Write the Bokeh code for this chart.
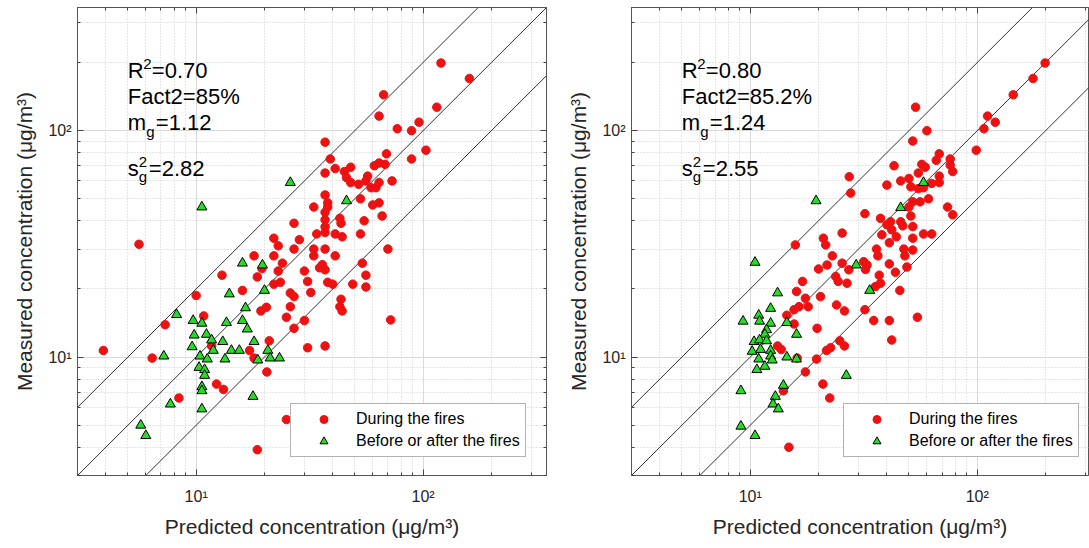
from bokeh.plotting import figure
from bokeh.models import FixedTicker, LogAxis, Label, Legend, LegendItem, Range1d
from bokeh.layouts import row
from bokeh.embed import file_html
from bokeh.resources import INLINE

# ---------------- data ----------------
left_red_x = [120, 160, 67, 115, 64, 96, 77, 89, 37, 103, 89, 69, 39, 61, 64, 68, 41, 37, 48, 45,
              46, 48, 52, 57, 56, 59, 62, 64, 73, 37, 38, 38, 53, 60, 64, 33, 37, 37, 37, 37,
              43, 43.5, 66, 55, 27, 34, 41, 44, 53, 28.5, 22, 23, 27, 33, 37, 41, 70, 33, 22, 36,
              37, 24, 23, 30, 31, 32, 23.5, 22, 26, 27, 26, 25, 30, 27, 38, 40, 49, 54, 56, 56,
              43.5, 43, 44, 72, 31, 37, 25, 20.5, 21, 5.6, 18, 19.5, 18.6, 13, 16, 10, 20.4, 19.3, 10.8, 7.3,
              11.7, 17.2, 18, 12.3, 13.2, 8.4, 18.6, 6.4, 3.9, 35]
left_red_y = [199, 170, 144, 127, 116, 109, 102, 100, 89, 82, 75, 79, 75, 70, 72, 71, 68, 65, 69, 66,
              62, 59, 58, 63, 60, 56, 56, 59, 60, 52, 48, 46, 50, 47, 48, 46, 43.6, 40.4, 37.6, 35.5,
              41, 39, 42, 40, 39, 35, 35, 34, 35, 33, 33.5, 31, 30, 30, 30, 28, 30, 28, 28, 25.6,
              24.3, 26, 24, 24, 21.6, 19.3, 21.4, 21, 19.2, 18.5, 16.7, 15, 14.5, 13.4, 21.4, 21, 21, 26, 23, 20.4,
              18, 16.7, 16, 14.6, 11, 11.2, 5.3, 8.6, 11.8, 31.5, 28, 24.6, 22.6, 23, 19.7, 18.7, 16.6, 16, 15.2, 13.9,
              11.2, 10.7, 9.9, 7.6, 7.2, 6.6, 3.9, 9.9, 10.7, 24.8]
left_green_x = [10.6, 26, 46, 16, 19.6, 20, 14, 16.5, 8.2, 9.7, 10.6, 13.6, 16, 16.8, 9.8, 11.1, 9.6, 11.7, 11.9, 13.1,
                14.3, 15.5, 18, 20.7, 21.2, 23.3, 18.7, 13.4, 10.4, 11.2, 10.3, 10.9, 10.9, 10.6, 10.6, 10.6, 17.8, 7.7, 5.7, 6.0,
                7.2]
left_green_y = [46, 59, 49, 26, 25.5, 19.7, 19, 16.5, 15.4, 14.5, 14.1, 14.2, 14.5, 13.3, 12.5, 12.6, 11.1, 11.9, 10.7, 11.7,
                10.7, 10.7, 11.7, 10.7, 9.9, 9.9, 9.7, 9.8, 10.1, 9.8, 9.0, 8.8, 8.3, 7.4, 7.1, 5.9, 6.7, 6.2, 5.0, 4.5,
                10.1]

right_red_x = [199, 176, 144, 111, 120, 107, 99, 53.5, 60, 52, 68, 66, 76, 76, 78, 57, 59, 43, 55, 46,
               50, 40, 51, 68, 68, 63, 58, 55, 61, 56, 52, 50, 51, 74, 78, 32, 37.5, 41.5, 46, 40,
               42, 47, 52, 38, 44, 52, 58, 63, 41, 36, 47.5, 52, 36.5, 48, 31.6, 32.7, 32.2, 41, 49, 43.6,
               37, 37.5, 35.6, 45.6, 32, 35, 41, 54.5, 42, 27.3, 27.7, 25.4, 21, 21.5, 15.8, 23, 25.4, 21.8, 20, 23.8,
               24.4, 26.7, 27.2, 17, 16, 17.5, 20.4, 24, 26, 18, 16.4, 15.6, 14.5, 15.6, 19.7, 13.2, 13.7, 16.1, 19.6, 21.7,
               22.6, 24.8, 26, 17.5, 20.9, 22.4, 14, 14.8]
right_red_y = [199, 170, 144, 116, 109, 102, 82, 127, 100, 90, 79, 74, 75, 70.5, 66, 71, 69, 70, 65, 60,
               61.5, 57.5, 56.5, 63, 59, 58.5, 56, 55.5, 50, 48.5, 48.5, 46, 42, 46, 42.5, 43, 41, 39.6, 39.6, 38.4,
               36.5, 38, 37.7, 34.7, 34, 33.5, 35, 35, 32, 30, 30, 29.7, 28, 28, 26.4, 25.5, 24.4, 25.8, 25, 23.7,
               23, 21.2, 20.5, 19.7, 16.2, 14.5, 14.5, 15, 11.9, 62.6, 53, 35.3, 33.5, 31.3, 31.3, 28, 26, 25.5, 24.5, 22.7,
               21.6, 21.2, 24.3, 21.6, 19.5, 18.2, 18.5, 17, 16, 16.7, 16.7, 16.2, 15.3, 14, 13.4, 11.2, 10.8, 9.9, 9.8, 10.7,
               11, 11.8, 11.2, 8.6, 7.6, 6.6, 7.1, 4.0]
right_green_x = [10.9, 9.3, 11, 12.3, 14.5, 16, 11.8, 11.6, 10.4, 11, 11.8, 10.2, 11.1, 12.3, 10.9, 12.3, 12.5, 14.5, 16, 10.7,
                 11.6, 9.1, 14, 12.9, 12.6, 13.3, 9.1, 10.5, 26.5, 19.5, 10.5, 13.2, 12.3, 29.3, 33.6, 58, 46]
right_green_y = [15.3, 14.4, 14.4, 14.1, 14.2, 12.6, 13.2, 12.6, 11.7, 11.9, 11.8, 10.6, 10.8, 10.7, 9.8, 10.1, 9.7, 10.0, 9.8, 8.8,
                 9.1, 7.1, 7.5, 6.7, 6.2, 5.9, 4.95, 4.5, 8.3, 49, 26.2, 19.2, 16.4, 25.5, 19.7, 59, 45.7]

stat_values_left = ["0.70", "85%", "1.12", "2.82"]
stat_values_right = ["0.80", "85.2%", "1.24", "2.55"]
ref_ratios = [0.5, 1.0, 2.0]
axis_min, axis_max = 3, 350
right_xmax = 309
major_ticks = [10, 100]
minor_ticks = [3, 4, 5, 6, 7, 8, 9, 20, 30, 40, 50, 60, 70, 80, 90, 200, 300]
tick_labels = {10: "10¹", 100: "10²"}
legend_labels = ["During the fires", "Before or after the fires"]

FONT = "Liberation Sans"
AX = "#262626"
RED = "#ee1111"
GREEN = "#27dc27"


def make_panel(red_x, red_y, green_x, green_y, stats, xmax, width, bl, br, box_right, leg_x):
    p = figure(width=width, height=548, x_axis_type="log", y_axis_type="log",
               x_range=Range1d(axis_min, xmax), y_range=Range1d(axis_min, axis_max),
               output_backend="svg", toolbar_location=None,
               min_border_left=bl, min_border_right=br, min_border_top=7, min_border_bottom=73)
    p.outline_line_color = "#555555"
    p.outline_line_width = 1
    p.background_fill_color = "white"

    tk = FixedTicker(ticks=major_ticks, minor_ticks=minor_ticks)
    for ax in [p.xaxis[0], p.yaxis[0]]:
        ax.ticker = tk
        ax.major_label_overrides = tick_labels
        ax.major_label_text_font = FONT
        ax.major_label_text_font_size = "16px"
        ax.major_label_text_color = AX
        ax.axis_line_color = "#555555"
        ax.major_tick_in = 6
        ax.major_tick_out = 0
        ax.minor_tick_in = 3
        ax.minor_tick_out = 0
        ax.major_tick_line_color = "#444444"
        ax.minor_tick_line_color = "#444444"
        ax.axis_label_text_font = FONT
        ax.axis_label_text_font_size = "21px"
        ax.axis_label_text_font_style = "normal"
        ax.axis_label_text_color = AX
    p.xaxis[0].major_label_standoff = 12
    p.yaxis[0].major_label_standoff = 6
    p.xaxis[0].axis_label_standoff = 7
    p.yaxis[0].axis_label_standoff = 9
    p.xaxis[0].axis_label = "Predicted concentration (μg/m³)"
    p.yaxis[0].axis_label = "Measured concentration (μg/m³)"

    sides = ["above"] + (["right"] if box_right else [])
    for side in sides:
        bx = LogAxis(ticker=tk, major_label_text_font_size="1px", major_label_text_color=None,
                     major_label_standoff=0, major_tick_in=6, major_tick_out=0,
                     minor_tick_in=3, minor_tick_out=0, axis_line_color="#555555",
                     major_tick_line_color="#444444", minor_tick_line_color="#444444")
        p.add_layout(bx, side)

    for g in [p.xgrid[0], p.ygrid[0]]:
        g.ticker = tk
        g.grid_line_color = "#dadada"
        g.grid_line_width = 1
        g.minor_grid_line_color = "#cccccc"
        g.minor_grid_line_dash = "1 2"

    lx = [axis_min, axis_max]
    for r in ref_ratios:
        p.line(lx, [v * r for v in lx], line_color="#333333", line_width=1)

    rr = p.scatter(red_x, red_y, marker="circle", size=8.5, fill_color=RED, line_color=RED)
    gr = p.scatter(green_x, green_y, marker="triangle", size=10, fill_color=GREEN,
                   line_color="black", line_width=1)

    # statistics text
    x0 = 5
    big = "22px"
    small = "15px"

    def lab(y, text, xo=0, yo=0, size=big):
        p.add_layout(Label(x=x0, y=y, text=text, x_offset=xo, y_offset=yo, text_font=FONT,
                           text_font_size=size, text_color="black", text_baseline="alphabetic"))
    lab(184.8, "R")
    lab(184.8, "2", xo=15.5, yo=6, size=small)
    lab(184.8, "=" + stats[0], xo=24)
    lab(141.9, "Fact2=" + stats[1])
    lab(108.7, "m")
    lab(108.7, "g", xo=18.5, yo=-9, size=small)
    lab(108.7, "=" + stats[2], xo=28)
    lab(68.2, "s")
    lab(68.2, "2", xo=11, yo=6, size=small)
    lab(68.2, "g", xo=11, yo=-8, size=small)
    lab(68.2, "=" + stats[3], xo=21)

    leg = Legend(items=[LegendItem(label=legend_labels[0], renderers=[rr]),
                        LegendItem(label=legend_labels[1], renderers=[gr])],
                 location=(leg_x, 18), margin=0, padding=5, spacing=2,
                 glyph_width=55, glyph_height=20, label_height=20, label_standoff=5,
                 label_text_font=FONT, label_text_font_size="16px", label_text_color="black",
                 border_line_color="#666666", border_line_width=1,
                 background_fill_color="white", background_fill_alpha=1)
    p.add_layout(leg)
    return p


p1 = make_panel(left_red_x, left_red_y, left_green_x, left_green_y, stat_values_left,
                axis_max, 560, 77, 14, True, 213)
p2 = make_panel(right_red_x, right_red_y, right_green_x, right_green_y, stat_values_right,
                right_xmax, 529, 71, 1, False, 212)

layout = row(p1, p2, spacing=0)
open("out.html", "w").write(file_html(layout, INLINE))
